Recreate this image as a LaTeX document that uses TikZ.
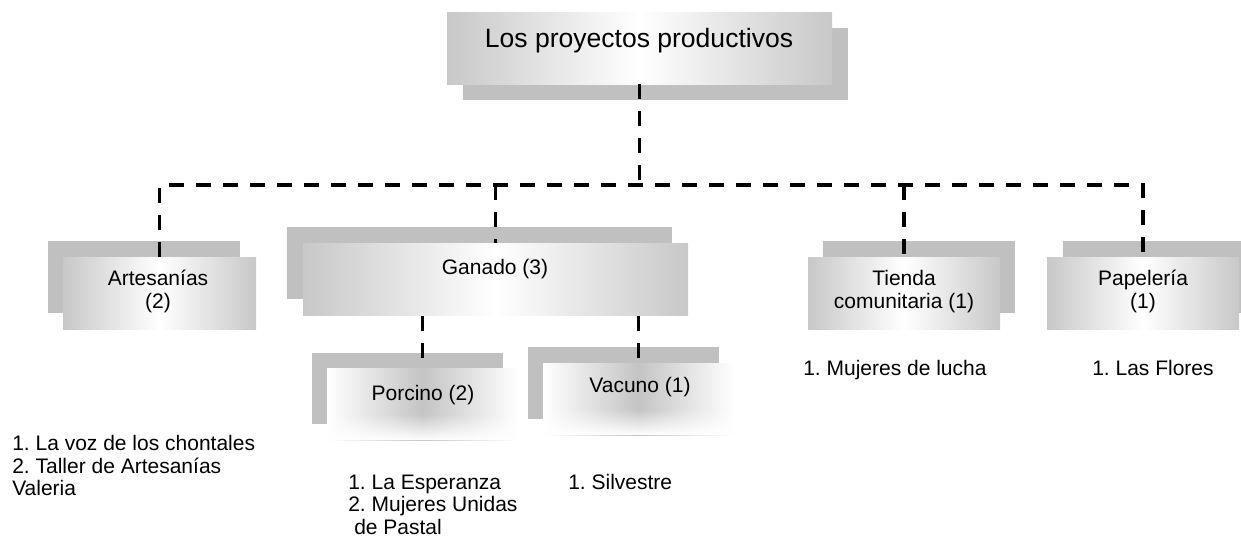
\documentclass[tikz,border=0pt]{standalone}
\usepackage{fontspec}
\setmainfont{Liberation Sans}
\usetikzlibrary{fadings}
\frenchspacing

\definecolor{shadegray}{RGB}{192,192,192}
\definecolor{boxgray}{RGB}{200,200,200}
\definecolor{softgray}{RGB}{196,196,196}

\tikzset{
  boxshade/.style={fill=shadegray},
  mainbox/.style={inner sep=0pt, minimum height=54pt, left color=boxgray, right color=boxgray, middle color=white},
  subbox/.style={inner sep=0pt, minimum height=54pt, left color=white, right color=white, middle color=softgray},
  link/.style={line width=2.5pt, dash pattern=on 11.25pt off 9pt},
  lbl/.style={inner sep=0pt, font=\fontsize{15.75}{17.25}\selectfont, align=center},
  lst/.style={inner sep=0pt, font=\fontsize{15.75}{16.8}\selectfont, align=left, anchor=north west}
}

\begin{document}
\begin{tikzpicture}[x=0.75pt,y=0.75pt,yscale=-1,xscale=1]
\useasboundingbox (0,0) rectangle (1241,537);

%Shape: Shadows
\fill[boxshade] (463,28) rectangle (848,100);
\fill[boxshade] (48,241) rectangle (240,313);
\fill[boxshade] (287,227) rectangle (672,299);
\fill[boxshade] (312,353) rectangle (503,424);
\fill[boxshade] (528,347) rectangle (719,419);
\fill[boxshade] (823,241) rectangle (1015,313);
\fill[boxshade] (1063,241) rectangle (1241,313);

%Shape: Boxes
\node[mainbox, minimum width=288.75pt] (proy) at (639.5,48) {};
\node[mainbox, minimum width=144.75pt] (artes) at (159.5,293) {};
\node[mainbox, minimum width=288.75pt] (ganado) at (495.5,279.5) {};
\node[subbox, minimum width=143.25pt] (porcino) at (422.5,404) {};
\node[subbox, minimum width=143.25pt] (vacuno) at (638.5,399) {};
\node[mainbox, minimum width=144pt] (tienda) at (904,293) {};
\node[mainbox, minimum width=144pt] (papel) at (1143,293) {};

%Shape: bottom fade
\fill[white, path fading=north] (327,414) rectangle (518,440);
\fill[white, path fading=north] (543,409) rectangle (734,435);

% Text Node
\node[lbl, font=\fontsize{19.9}{24}\selectfont, anchor=base] (proylbl) at (639,47) {Los proyectos productivos};
\node[lbl, anchor=north] (arteslbl) at (158,270) {Artesanías\\(2)};
\node[lbl, anchor=base] (ganadolbl) at (495,274.5) {Ganado (3)};
\node[lbl, anchor=base] (porcinolbl) at (423,400.5) {Porcino (2)};
\node[lbl, anchor=base] (vacunolbl) at (640,392.5) {Vacuno (1)};
\node[lbl, anchor=north] (tiendalbl) at (904,270) {Tienda\\comunitaria (1)};
\node[lbl, anchor=north] (papellbl) at (1143,270) {Papelería\\(1)};

% Text Node
\node[lst] (arteslist) at (12,435.5) {1. La voz de los chontales\\2. Taller de Artesanías\\Valeria};
\node[lst] (porcinolist) at (348,474.5) {1. La Esperanza\\2. Mujeres Unidas\\\hspace*{4.5pt}de Pastal};
\node[lst] (vacunolist) at (568,474.5) {1. Silvestre};
\node[lst] (tiendalist) at (803,360.5) {1. Mujeres de lucha};
\node[lst] (papellist) at (1092,360.5) {1. Las Flores};

%Straight Lines
\coordinate (bus) at (639,185);
\draw[link] (proy.south) -- (proy.south |- bus);
\draw[link] (artes.north) |- (bus) -| (papel.north);
\draw[link] (ganado.north |- bus) -- (ganado.north);
\draw[link] (tienda.north |- bus) -- (tienda.north);
\draw[link] (ganado.south -| porcino.north) -- (porcino.north);
\draw[link] (ganado.south -| vacuno.north) -- (vacuno.north);
\end{tikzpicture}
\end{document}
